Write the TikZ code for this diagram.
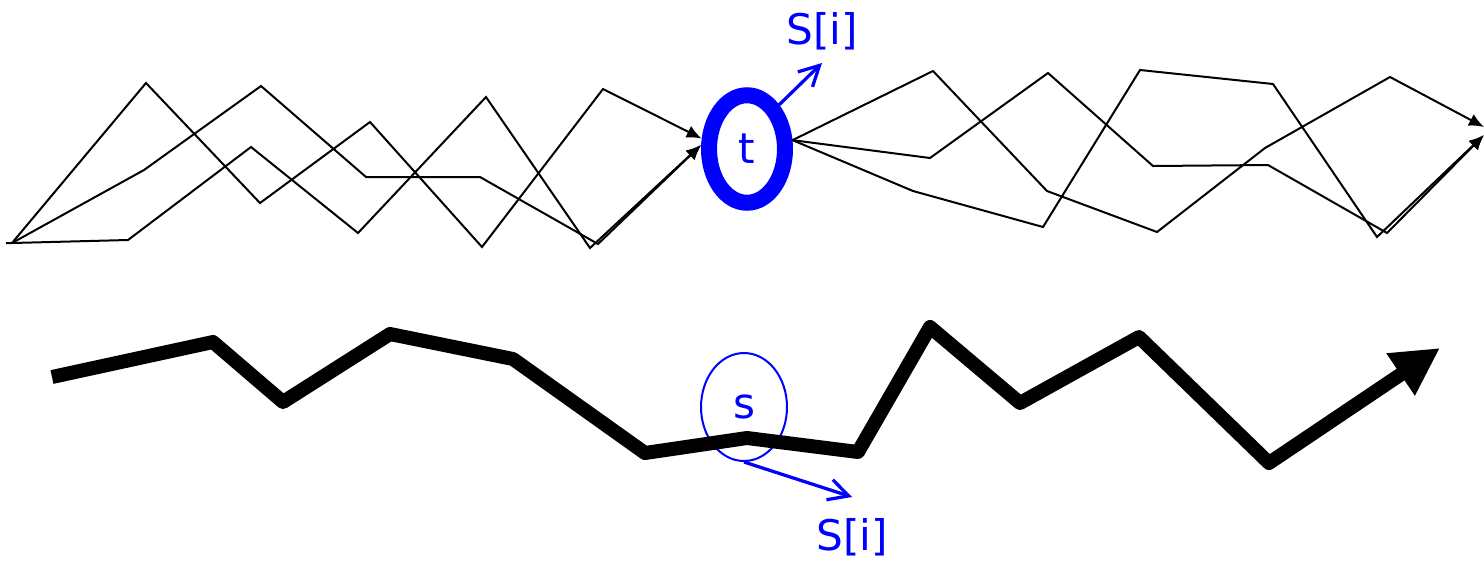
\documentclass[tikz,border=0pt]{standalone}
\usepackage{fontspec}
\setsansfont{DejaVu Sans}
\usepackage{tikz}
\usetikzlibrary{shapes.geometric, arrows.meta}
\usetikzlibrary{positioning}
\tikzstyle{state} = [ellipse, 
draw=blue, 
inner sep=0pt, 
text=blue, 
font=\sffamily\fontsize{24}{28}\selectfont]
\tikzstyle{target} = [state, 
line width=0.32cm, 
minimum width=1.52cm, 
minimum height=2.15cm]
\tikzstyle{source} = [state, 
line width=0.04cm, 
minimum width=1.72cm, 
minimum height=2.16cm]
\tikzstyle{idx} = [inner sep=0pt, 
text=blue, 
font=\sffamily\fontsize{24}{28}\selectfont]
\tikzstyle{walk} = [line width=0.04cm, -{Latex[length=0.3cm, width=0.26cm]}]
\tikzstyle{route} = [line width=0.28cm, line join=round, 
-{Triangle[length=0.95cm, width=0.95cm]}]
\tikzstyle{pointer} = [blue, line width=0.065cm, 
-{Straight Barb[length=0.4cm, width=0.42cm]}]

\begin{document}
\begin{tikzpicture}[x=0.02cm, y=-0.02cm]

        \useasboundingbox (0,0) rectangle (1484,562);

        \node (t) [target] at (747,149) {t};
        \node (s) [source] at (744,407) {s};

        \coordinate (src) at (12,243);
        \coordinate (sinka) at (1484,127);
        \coordinate (sinkb) at (1484,135);
        \coordinate (tipa) at (822,63);
        \coordinate (tipb) at (852,497);

        \node (outa) [idx, above=0.26cm of tipa] {S[i]};
        \node (outb) [idx, below=0.42cm of tipb] {S[i]};

        % walks into t
        \draw [walk] (src) -- (146,83) -- (260,203) -- (370,122) -- (482,247) -- (603,89) -- (t.167);
        \draw [walk, shorten <=-0.12cm] (src) -- (128,240) -- (251,147) -- (358,233) -- (486,97) -- (590,248) -- (t.175);
        \draw [walk] (src) -- (144,170) -- (261,86) -- (366,177) -- (480,177) -- (598,244) -- (t.175);

        % walks out of t
        \draw [walk] (t.11) -- (933,71) -- (1047,191) -- (1157,232) -- (1265,148) -- (1390,77) -- (sinka);
        \draw [walk] (t.11) -- (930,158) -- (1048,73) -- (1153,166) -- (1268,165) -- (1387,233) -- (sinkb);
        \draw [walk] (t.11) -- (913,191) -- (1043,227) -- (1140,70) -- (1273,84) -- (1377,237) -- (sinkb);

        \draw [route] (52,377) -- (213,342) -- (283,402) -- (390,334) -- (513,359) -- (645,453) -- (747,438) -- (858,452) -- (930,327) -- (1020,403) -- (1139,337) -- (1269,463) -- (1440,348);

        \draw [pointer] (t.54) -- (tipa);
        \draw [pointer] (s.south) -- (tipb);

\end{tikzpicture}
\end{document}
